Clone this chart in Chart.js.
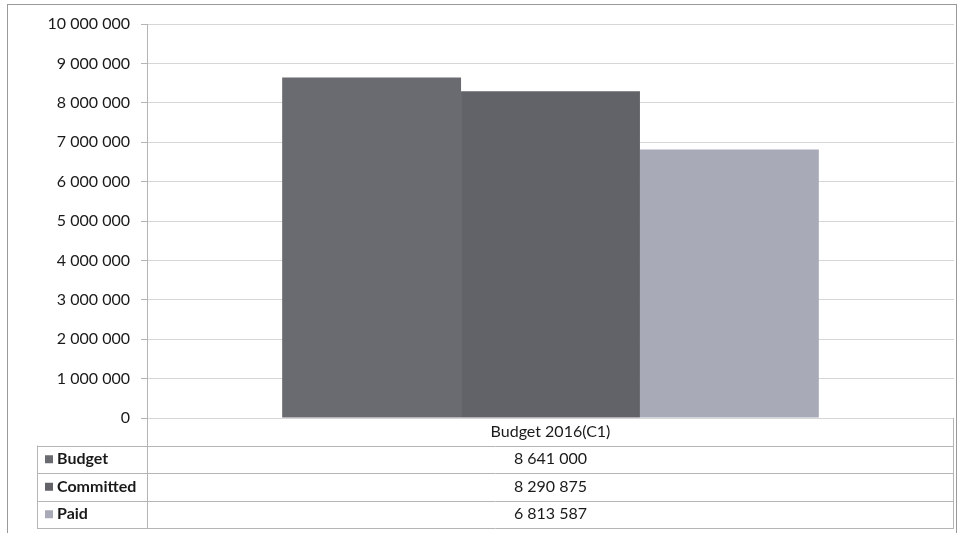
<!DOCTYPE html>
<html>
<head>
<meta charset="utf-8">
<script src="https://cdn.jsdelivr.net/npm/chart.js@4.4.1/dist/chart.umd.min.js"></script>
<style>
  html, body { margin: 0; padding: 0; background: #fff; }
  #wrap { width: 961px; height: 533px; position: relative; }
</style>
</head>
<body>
<div id="wrap"><canvas id="budgetChart"></canvas></div>
<script>
// --- data ---
const categories = ['Budget 2016(C1)'];
const seriesNames = ['Budget', 'Committed', 'Paid'];
const budgetValues = [8641000];
const committedValues = [8290875];
const paidValues = [6813587];
const yTicks = [0, 1000000, 2000000, 3000000, 4000000, 5000000, 6000000, 7000000, 8000000, 9000000, 10000000];

const colors = ['#6a6b70', '#626368', '#a8aab7'];
const fontFamily = 'Lato, "Open Sans", sans-serif';

// space as thousands separator, like the original sheet
const fmt = v => String(Math.round(v)).replace(/\B(?=(\d{3})+(?!\d))/g, ' ');

// draws the frame and the data table under the plot
const tablePlugin = {
    id: 'dataTable',
    afterDraw(chart) {
        const ctx = chart.ctx;
        const area = chart.chartArea;
        const x = chart.scales.x;
        const rowH = 27.5;
        const labelLeft = 37;
        const top = area.bottom;
        const rows = [budgetValues, committedValues, paidValues];

        ctx.save();
        ctx.strokeStyle = '#9a9a9a';
        ctx.lineWidth = 1;

        // outer frame
        ctx.strokeRect(7.5, 4.5, 949, 540);

        // table lines
        ctx.strokeStyle = '#b5b5b5';
        ctx.beginPath();
        ctx.moveTo(area.left + 0.5, top);
        ctx.lineTo(area.left + 0.5, top + rowH * 4);
        ctx.moveTo(area.right - 0.5, top);
        ctx.lineTo(area.right - 0.5, top + rowH * 4);
        ctx.moveTo(labelLeft + 0.5, top + rowH);
        ctx.lineTo(labelLeft + 0.5, top + rowH * 4);
        for (let i = 1; i <= 4; i++) {
            const yy = Math.round(top + rowH * i) + 0.5;
            ctx.moveTo(labelLeft, yy);
            ctx.lineTo(area.right, yy);
        }
        ctx.stroke();

        ctx.textBaseline = 'middle';
        ctx.fillStyle = '#1a1a1a';

        // category header
        categories.forEach((c, i) => {
            ctx.font = '16px ' + fontFamily;
            ctx.textAlign = 'center';
            ctx.fillText(c, x.getPixelForValue(i), top + rowH / 2);
        });

        // series rows
        seriesNames.forEach((name, r) => {
            const cy = top + rowH * (r + 1) + rowH / 2;
            ctx.fillStyle = colors[r];
            ctx.fillRect(45, cy - 4, 8, 8);
            ctx.fillStyle = '#1a1a1a';
            ctx.font = 'bold 16px ' + fontFamily;
            ctx.textAlign = 'left';
            ctx.fillText(name, 57, cy);
            ctx.font = '16px ' + fontFamily;
            ctx.textAlign = 'center';
            rows[r].forEach((v, i) => {
                ctx.fillText(fmt(v), x.getPixelForValue(i), cy);
            });
        });
        ctx.restore();
    }
};

new Chart(document.getElementById('budgetChart'), {
    type: 'bar',
    data: {
        labels: categories,
        datasets: [
            { label: seriesNames[0], data: budgetValues, backgroundColor: colors[0] },
            { label: seriesNames[1], data: committedValues, backgroundColor: colors[1] },
            { label: seriesNames[2], data: paidValues, backgroundColor: colors[2] }
        ]
    },
    options: {
        responsive: true,
        maintainAspectRatio: false,
        animation: false,
        layout: { padding: { top: 24, right: 7, bottom: 115, left: 0 } },
        datasets: { bar: { categoryPercentage: 0.665, barPercentage: 1 } },
        plugins: {
            legend: { display: false },
            tooltip: { enabled: false }
        },
        scales: {
            x: { display: false },
            y: {
                min: 0,
                max: 10000000,
                afterFit: s => { s.width = 147; },
                afterBuildTicks: s => { s.ticks = yTicks.map(v => ({ value: v })); },
                border: { color: '#b5b5b5' },
                grid: { color: '#d6d6d6', tickLength: 6, tickColor: '#b5b5b5' },
                ticks: {
                    padding: 11,
                    color: '#1a1a1a',
                    font: { family: fontFamily, size: 16 },
                    callback: v => fmt(v)
                }
            }
        }
    },
    plugins: [tablePlugin]
});
</script>
</body>
</html>
